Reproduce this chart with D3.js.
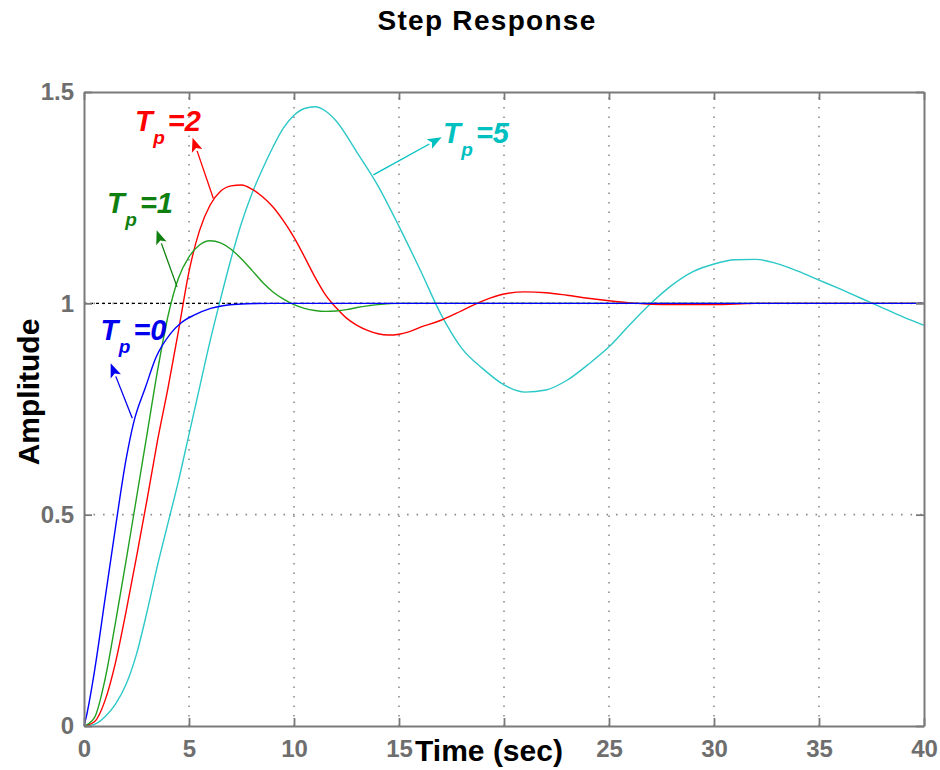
<!DOCTYPE html>
<html>
<head>
<meta charset="utf-8">
<script src="https://cdn.jsdelivr.net/npm/d3@7/dist/d3.min.js"></script>
<style>
  body { margin: 0; background: #fff; }
  svg { display: block; font-family: "Liberation Sans", Arial, Helvetica, sans-serif; }
</style>
</head>
<body>
<svg id="chart" width="940" height="770"></svg>
<script>
// Axis ticks
const xTicks = [0, 5, 10, 15, 20, 25, 30, 35, 40];
const yTicks = [0, 0.5, 1, 1.5];

// Step responses, one per zero time constant Tp (time in sec, amplitude)
const tTp0 = [0, 0.1, 0.5, 1.0, 1.5, 2.0, 2.35, 2.94, 3.41, 4.13, 4.6, 5.24, 6.03, 7.3, 9, 40];
const vTp0 = [0, 0.02, 0.13, 0.30, 0.47, 0.63, 0.715, 0.803, 0.87, 0.929, 0.953, 0.972, 0.988, 0.998, 1.0, 1.0];

const tTp1 = [0, 0.5, 1.0, 1.5, 2.0, 2.5, 3.0, 3.5, 4.0, 4.5, 5.0, 5.5, 6.0, 6.5, 7.0, 7.5, 8.0, 8.5, 9.0, 9.5, 10.0, 10.5, 11.0, 11.5, 12.0, 12.5, 13.0, 13.5, 14.0, 15.0, 40];
const vTp1 = [0, 0.02, 0.11, 0.245, 0.39, 0.54, 0.69, 0.84, 0.97, 1.06, 1.11, 1.138, 1.148, 1.143, 1.128, 1.105, 1.078, 1.05, 1.027, 1.01, 0.997, 0.988, 0.983, 0.981, 0.982, 0.985, 0.99, 0.994, 0.997, 1.0, 1.0];

const tTp2 = [0, 0.5, 1.0, 1.5, 2.0, 2.5, 3.0, 3.5, 4.0, 4.5, 5.0, 5.5, 6.0, 6.5, 7.0, 7.5, 8.0, 8.5, 9.0, 9.5, 10.0, 10.5, 11.0, 11.5, 12.0, 12.5, 13.0, 13.5, 14.0, 14.5, 15.0, 15.5, 16.0, 17.0, 18.0, 19.0, 20.0, 21.0, 22.0, 23.0, 24.0, 25.0, 26.0, 27.0, 28.0, 30.0, 32.0, 40];
const vTp2 = [0, 0.01, 0.06, 0.15, 0.27, 0.40, 0.535, 0.675, 0.80, 0.935, 1.075, 1.172, 1.232, 1.265, 1.278, 1.28, 1.27, 1.252, 1.228, 1.195, 1.156, 1.11, 1.062, 1.02, 0.99, 0.965, 0.948, 0.936, 0.928, 0.925, 0.927, 0.933, 0.943, 0.96, 0.983, 1.006, 1.022, 1.027, 1.025, 1.019, 1.012, 1.006, 1.001, 0.998, 0.997, 0.997, 1.0, 1.0];

const tTp5 = [0, 0.5, 1.0, 1.5, 2.0, 2.5, 3.0, 3.5, 4.0, 4.5, 5.0, 5.5, 6.0, 6.5, 7.0, 7.5, 8.0, 8.5, 9.0, 9.5, 10.0, 10.5, 11.0, 11.5, 12.0, 13.0, 14.0, 15.0, 16.0, 17.0, 18.0, 19.0, 20.0, 21.0, 22.0, 23.0, 24.0, 25.0, 26.0, 27.0, 28.0, 29.0, 30.0, 31.0, 32.0, 33.0, 34.0, 35.0, 36.0, 37.0, 38.0, 39.0, 40.0];
const vTp5 = [0, 0.004, 0.022, 0.052, 0.098, 0.17, 0.27, 0.38, 0.48, 0.58, 0.69, 0.80, 0.91, 1.01, 1.105, 1.19, 1.26, 1.318, 1.37, 1.415, 1.445, 1.461, 1.465, 1.455, 1.432, 1.357, 1.278, 1.182, 1.08, 0.974, 0.893, 0.845, 0.807, 0.79, 0.795, 0.818, 0.855, 0.897, 0.95, 1.0, 1.043, 1.075, 1.093, 1.103, 1.104, 1.094, 1.076, 1.055, 1.034, 1.012, 0.99, 0.968, 0.948];

const tpValues = ["0", "1", "2", "5"];
const steadyState = 1;

// ---- layout ----
const plot = { left: 84, right: 924, top: 92, bottom: 726 };

const svg = d3.select("#chart");
const x = d3.scaleLinear().domain([0, 40]).range([plot.left, plot.right]);
const y = d3.scaleLinear().domain([0, 1.5]).range([plot.bottom, plot.top]);

const series = [
  { tp: tpValues[0], t: tTp0, v: vTp0, line: "#0000ff", text: "#0000ee" },
  { tp: tpValues[1], t: tTp1, v: vTp1, line: "#22a022", text: "#0f800f" },
  { tp: tpValues[2], t: tTp2, v: vTp2, line: "#ff0000", text: "#ff0000" },
  { tp: tpValues[3], t: tTp5, v: vTp5, line: "#2cc8c8", text: "#00c0c0" }
];

// dotted grid
const grid = svg.append("g");
grid.selectAll("line.gx")
  .data(xTicks.filter(d => d > 0 && d < 40))
  .join("line")
  .attr("x1", d => x(d)).attr("x2", d => x(d))
  .attr("y1", y(0)).attr("y2", y(1.5))
  .attr("stroke", "#8c8c8c").attr("stroke-width", 1.6)
  .attr("stroke-dasharray", "1.6,7.9");
grid.selectAll("line.gy")
  .data(yTicks.filter(d => d > 0 && d < 1.5))
  .join("line")
  .attr("x1", x(0)).attr("x2", x(40))
  .attr("y1", d => y(d)).attr("y2", d => y(d))
  .attr("stroke", "#8c8c8c").attr("stroke-width", 1.6)
  .attr("stroke-dasharray", "1.6,7.9");

// steady-state reference
svg.append("line")
  .attr("x1", x(0)).attr("x2", x(40))
  .attr("y1", y(steadyState)).attr("y2", y(steadyState))
  .attr("stroke", "#000").attr("stroke-width", 1.4)
  .attr("stroke-dasharray", "3,3");

// response curves
const lineGen = d3.line()
  .x(d => x(d[0]))
  .y(d => y(d[1]))
  .curve(d3.curveMonotoneX);

const drawOrder = [3, 2, 1, 0];
drawOrder.forEach(i => {
  const s = series[i];
  svg.append("path")
    .datum(s.t.map((t, k) => [t, s.v[k]]))
    .attr("fill", "none")
    .attr("stroke", s.line)
    .attr("stroke-width", 1.4)
    .attr("stroke-linejoin", "round")
    .attr("d", lineGen);
});

// axes
function styleAxis(g, withText) {
  g.select(".domain").attr("stroke", "#7a7a7a").attr("stroke-width", 2);
  g.selectAll(".tick line").attr("stroke", "#7a7a7a").attr("stroke-width", 1.8);
  if (withText) {
    g.selectAll(".tick text")
      .attr("fill", "#6e6e6e")
      .attr("font-size", 24)
      .attr("font-weight", "bold")
      .attr("font-family", "'Liberation Sans', Arial, sans-serif");
  }
}

// the "20" label is hidden under the x-axis title
svg.append("g")
  .attr("transform", `translate(0,${plot.bottom})`)
  .call(d3.axisBottom(x).tickValues(xTicks).tickSize(-8).tickSizeOuter(0)
    .tickPadding(14).tickFormat(d => (d === 20 ? "" : String(d))))
  .call(g => styleAxis(g, true));

svg.append("g")
  .attr("transform", `translate(${plot.left},0)`)
  .call(d3.axisLeft(y).tickValues(yTicks).tickSize(-8).tickSizeOuter(0)
    .tickPadding(10).tickFormat(d => String(d)))
  .call(g => styleAxis(g, true));

svg.append("g")
  .attr("transform", `translate(0,${plot.top})`)
  .call(d3.axisTop(x).tickValues(xTicks).tickSize(-8).tickSizeOuter(0).tickFormat(""))
  .call(g => styleAxis(g, false));

svg.append("g")
  .attr("transform", `translate(${plot.right},0)`)
  .call(d3.axisRight(y).tickValues(yTicks).tickSize(-8).tickSizeOuter(0).tickFormat(""))
  .call(g => styleAxis(g, false));

// title and axis labels
svg.append("text")
  .attr("x", 487).attr("y", 30)
  .attr("text-anchor", "middle")
  .attr("font-size", 28).attr("font-weight", "bold")
  .attr("letter-spacing", 1.3)
  .attr("fill", "#000")
  .text("Step Response");

svg.append("text")
  .attr("transform", "translate(39,392) rotate(-90)")
  .attr("text-anchor", "middle")
  .attr("font-size", 30).attr("font-weight", "bold")
  .attr("fill", "#000")
  .text("Amplitude");

svg.append("text")
  .attr("x", 489).attr("y", 761)
  .attr("text-anchor", "middle")
  .attr("font-size", 30).attr("font-weight", "bold")
  .attr("fill", "#000")
  .text("Time (sec)");

// Tp annotations: label anchor, arrow tip and arrow tail in data units
const notes = [
  { s: 0, at: [0.79, 0.913], tip: [1.27, 0.858], tail: [2.3, 0.728] },
  { s: 1, at: [1.10, 1.214], tip: [3.46, 1.173], tail: [4.43, 1.039] },
  { s: 2, at: [2.43, 1.408], tip: [5.17, 1.392], tail: [6.16, 1.248] },
  { s: 3, at: [17.1, 1.379], tip: [17.03, 1.393], tail: [13.78, 1.304] }
];

notes.forEach(n => {
  const s = series[n.s];
  const tx = x(n.tip[0]), ty = y(n.tip[1]);
  const sx = x(n.tail[0]), sy = y(n.tail[1]);
  const dx = tx - sx, dy = ty - sy;
  const len = Math.hypot(dx, dy);
  const ux = dx / len, uy = dy / len;
  const headL = 14, headW = 5.5;
  const bx = tx - ux * headL, by = ty - uy * headL;

  svg.append("line")
    .attr("x1", sx).attr("y1", sy).attr("x2", bx).attr("y2", by)
    .attr("stroke", s.text).attr("stroke-width", 1.3);
  svg.append("path")
    .attr("d", `M${tx},${ty}L${bx - uy * headW},${by + ux * headW}L${bx + ux * 3},${by + uy * 3}L${bx + uy * headW},${by - ux * headW}Z`)
    .attr("fill", s.text);

  const label = svg.append("text")
    .attr("x", x(n.at[0])).attr("y", y(n.at[1]))
    .attr("fill", s.text)
    .attr("font-weight", "bold")
    .attr("font-style", "italic")
    .attr("font-size", 29);
  label.append("tspan").text("T");
  label.append("tspan").attr("font-size", 19).attr("dy", 13).attr("dx", 0.5).text("p");
  label.append("tspan").attr("dy", -13).attr("dx", 3).text("=" + s.tp);
});
</script>
</body>
</html>
